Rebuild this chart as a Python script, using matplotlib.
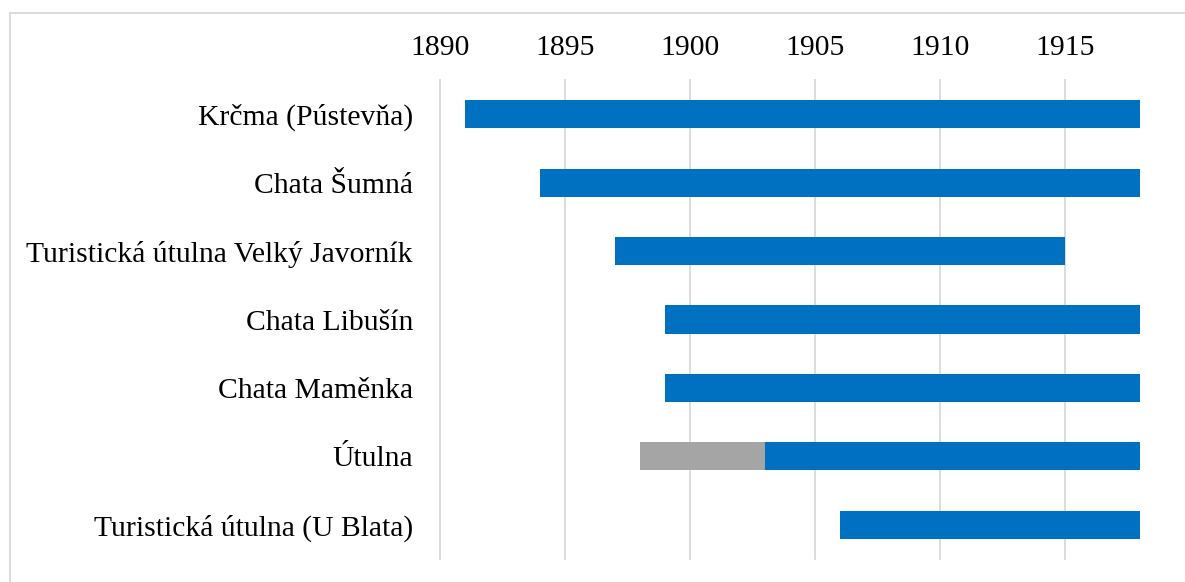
import matplotlib
matplotlib.use("Agg")
import matplotlib.pyplot as plt
from matplotlib.patches import Rectangle

categories = ["Krčma (Pústevňa)", "Chata Šumná", "Turistická útulna Velký Javorník",
              "Chata Libušín", "Chata Maměnka", "Útulna", "Turistická útulna (U Blata)"]
start_blue = [1891, 1894, 1897, 1899, 1899, 1903, 1906]
end_blue = [1918, 1918, 1915, 1918, 1918, 1918, 1918]
gray_start = [None, None, None, None, None, 1898, None]
gray_end = [None, None, None, None, None, 1903, None]
xticks = [1890, 1895, 1900, 1905, 1910, 1915]

plt.rcParams['font.family'] = ['Liberation Serif', 'DejaVu Serif']

fig = plt.figure(figsize=(11.85, 5.82), dpi=100)
W, H = 1185, 582
ax = fig.add_axes([440 / W, 1 - 559 / H, 700 / W, 479 / H])

n = len(categories)
ypos = list(range(n))
blue = "#0070C0"
gray = "#A5A5A5"
for i in ypos:
    ax.barh(i, end_blue[i] - start_blue[i], left=start_blue[i], height=0.41, color=blue, zorder=3)
    if gray_start[i] is not None:
        ax.barh(i, gray_end[i] - gray_start[i], left=gray_start[i], height=0.41, color=gray, zorder=3)

ax.set_xlim(1890, 1918)
ax.set_ylim(n - 0.5, -0.5)
ax.set_yticks(ypos)
ax.set_yticklabels(categories, fontsize=21.3)
ax.set_xticks(xticks)
ax.set_xticklabels([str(t) for t in xticks], fontsize=21.3)
ax.xaxis.tick_top()
ax.tick_params(axis='both', length=0)
ax.tick_params(axis='x', pad=13.5)
ax.tick_params(axis='y', pad=19.5)
ax.grid(axis='x', color='#D9D9D9', linewidth=1.3, zorder=0)
for gl in ax.get_xgridlines():
    gl.set_clip_on(False)
for s in ax.spines.values():
    s.set_visible(False)

# outer chart border
fig.patches.append(Rectangle((10 / W, -0.1), 1.2, (1 - 13 / H) + 0.1, transform=fig.transFigure,
                             fill=False, edgecolor='#D9D9D9', linewidth=1.3))

fig.savefig("out.png", dpi=100)
